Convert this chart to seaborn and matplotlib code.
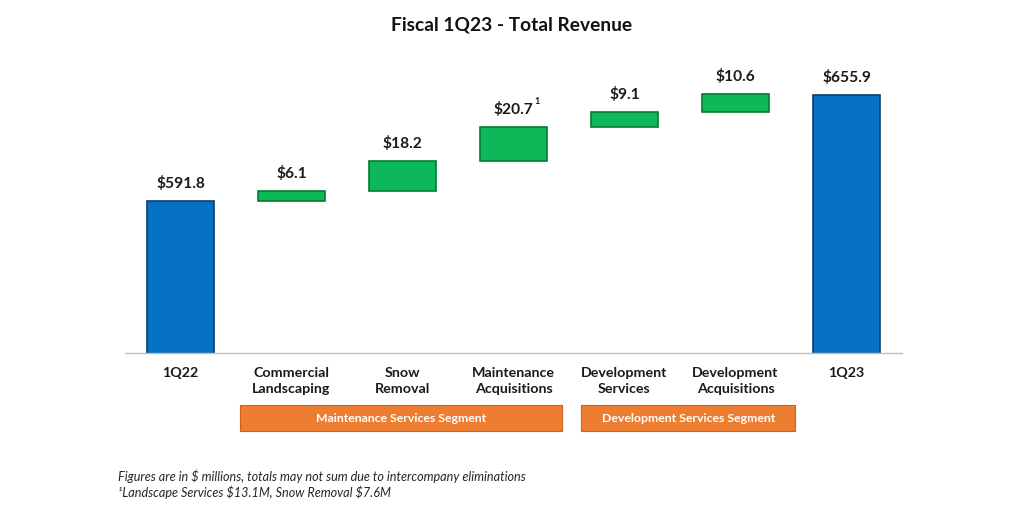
import matplotlib
matplotlib.use("Agg")
import matplotlib.pyplot as plt
import matplotlib.transforms as mtransforms
from matplotlib.patches import Rectangle
import seaborn as sns
import pandas as pd
import numpy as np

# ---- data ----
categories = ["1Q22", "Commercial\nLandscaping", "Snow\nRemoval", "Maintenance\nAcquisitions",
              "Development\nServices", "Development\nAcquisitions", "1Q23"]
total_cats = ["1Q22", "1Q23"]
total_values = [591.8, 655.9]
inc_cats = ["Commercial\nLandscaping", "Snow\nRemoval", "Maintenance\nAcquisitions",
            "Development\nServices", "Development\nAcquisitions"]
inc_values = [6.1, 18.2, 20.7, 9.1, 10.6]
value_labels = ["$591.8", "$6.1", "$18.2", "$20.7", "$9.1", "$10.6", "$655.9"]
segment_names = ["Maintenance Services Segment", "Development Services Segment"]
segment_first = [1, 4]
segment_last = [3, 5]
title = "Fiscal 1Q23 - Total Revenue"
footnotes = ["Figures are in $ millions, totals may not sum due to intercompany eliminations",
             "\u00b9Landscape Services $13.1M, Snow Removal $7.6M"]
y_floor = 500

# waterfall starts/ends
inc_start = list(np.cumsum([total_values[0]] + inc_values[:-1]))
inc_end = [s + v for s, v in zip(inc_start, inc_values)]

sns.set_style("white")
plt.rcParams['font.family'] = ['Lato', 'DejaVu Sans']

BLUE = "#0572C6"
BLUE_EDGE = "#0A3F73"
GREEN = "#0CB857"
GREEN_EDGE = "#067A36"
ORANGE = "#ED7D31"
ORANGE_EDGE = "#C9631E"
# layout: box extents relative to first/last category centres
seg_pad_left = [0.46, 0.39]
seg_pad_right = [0.44, 0.54]

fig = plt.figure(figsize=(10.24, 5.12), dpi=100)
ax = fig.add_axes([125/1024, 159/512, 777/1024, 0.892 - 159/512])

tot_df = pd.DataFrame({"cat": total_cats, "val": total_values})
inc_df = pd.DataFrame({"cat": inc_cats, "val": inc_values})

sns.barplot(data=tot_df, x="cat", y="val", order=categories, color=BLUE,
            saturation=1, width=0.6, errorbar=None, ax=ax,
            edgecolor=BLUE_EDGE, linewidth=1.2)
sns.barplot(data=inc_df, x="cat", y="val", order=categories, color=GREEN,
            saturation=1, width=0.6, errorbar=None, ax=ax,
            edgecolor=GREEN_EDGE, linewidth=1.2, bottom=inc_start)

ax.set_ylim(y_floor, 680)
ax.set_xlim(-0.5, len(categories) - 0.5)
ax.set_xlabel("")
ax.set_ylabel("")
ax.set_yticks([])
for s in ["top", "right", "left"]:
    ax.spines[s].set_visible(False)
ax.spines["bottom"].set_color("#BFBFBF")
ax.spines["bottom"].set_linewidth(1.0)

ax.set_xticks(range(len(categories)))
ax.set_xticklabels(categories, fontsize=10.3, fontweight="bold", color="#1a1a1a", linespacing=1.45)
ax.tick_params(axis="x", which="major", direction="in", length=4, color="#BFBFBF", pad=10)
ax.set_xticks(np.arange(-0.5, len(categories), 1.0), minor=True)
ax.tick_params(axis="x", which="minor", direction="out", length=5, color="#BFBFBF")

# value labels
tops = {c: v for c, v in zip(total_cats, total_values)}
tops.update({c: e for c, e in zip(inc_cats, inc_end)})
for i, (c, lab) in enumerate(zip(categories, value_labels)):
    ax.annotate(lab, xy=(i, tops[c]), xytext=(0, 7), textcoords="offset points",
                ha="center", va="bottom", fontsize=11.2, fontweight="bold", color="#1a1a1a",
                parse_math=False)
# superscript on Maintenance Acquisitions
idx = categories.index("Maintenance\nAcquisitions")
ax.annotate("1", xy=(idx, tops[categories[idx]]), xytext=(17, 15), textcoords="offset points",
            ha="center", va="bottom", fontsize=6.5, fontweight="bold", color="#1a1a1a")

# segment boxes
trans = mtransforms.blended_transform_factory(ax.transData, fig.transFigure)
for name, a, b, pl, pr in zip(segment_names, segment_first, segment_last, seg_pad_left, seg_pad_right):
    x0 = a - pl
    x1 = b + pr
    rect = Rectangle((x0, 81/512), x1 - x0, 26/512, transform=trans, facecolor=ORANGE,
                     edgecolor=ORANGE_EDGE, linewidth=0.8, clip_on=False)
    fig.add_artist(rect)
    t = plt.Text((x0 + x1) / 2, 94/512, name, transform=trans, ha="center", va="center",
                 fontsize=8.8, fontweight="bold", color="white")
    fig.add_artist(t)

fig.text(0.5, 1 - 25/512, title, ha="center", va="center", fontsize=13.8, fontweight="bold",
         color="#111111")
fig.text(118/1024, 1 - 476/512, footnotes[0], ha="left", va="center", fontsize=9.1,
         style="italic", color="#262626", parse_math=False)
fig.text(118/1024, 1 - 492/512, footnotes[1], ha="left", va="center", fontsize=9.1,
         style="italic", color="#262626", parse_math=False)

fig.savefig("out.png", dpi=100)
